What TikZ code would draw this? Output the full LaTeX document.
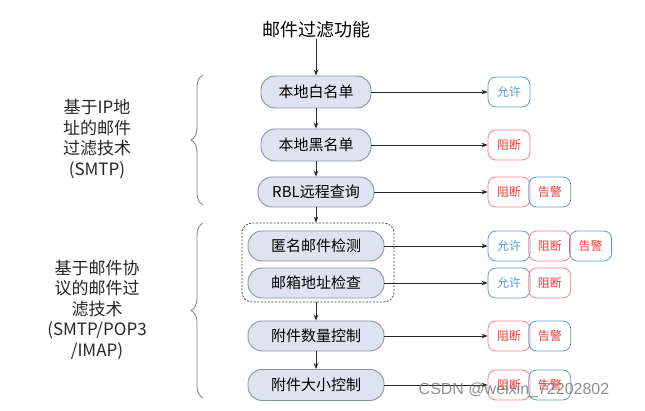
\documentclass[tikz,border=0pt]{standalone}
\usepackage{fontspec}
\setmainfont{Noto Sans CJK SC}
\newfontfamily\marquefont{Liberation Sans}
\usetikzlibrary{arrows.meta, positioning, decorations.pathreplacing}
\definecolor{etapefond}{HTML}{DEE4EF}
\definecolor{etapebord}{HTML}{8794A8}
\definecolor{okbleu}{HTML}{5B9BD5}
\definecolor{stoprouge}{HTML}{FF7C80}
\definecolor{texterouge}{HTML}{F23A3A}
\definecolor{fleche}{HTML}{262626}

\begin{document}
\begin{tikzpicture}[x=1pt, y=1pt, >={Stealth[length=6pt, width=4.5pt]},
  every node/.style={inner sep=0pt},
  etape/.style={draw=etapebord, fill=etapefond, line width=0.9pt, rounded corners=14pt,
    minimum height=30pt, font=\fontsize{15}{18}\selectfont},
  verdict/.style={draw, line width=0.8pt, rounded corners=8pt, minimum width=42pt,
    minimum height=30pt, font=\fontsize{12}{14}\selectfont},
  autorise/.style={verdict, draw=okbleu, text=okbleu},
  bloque/.style={verdict, draw=stoprouge, text=texterouge},
  alerte/.style={verdict, draw=okbleu, text=texterouge},
  lien/.style={->, fleche, line width=0.8pt},
  accolade/.style={decorate, decoration={brace, amplitude=12pt, aspect=0.5}, gray, line width=0.8pt},
  technique/.style={align=center, font=\fontsize{17}{20.5}\selectfont, text=black!85}]

  \useasboundingbox (0,0) rectangle (645,411);

  % === TITRE ===
  \node[font=\fontsize{18}{20}\selectfont] (titre) at (316,381) {邮件过滤功能};

  % === ETAPES (colonne centrale) ===
  \node[etape, minimum width=110pt, minimum height=32pt] (blanche) at (316,319) {本地白名单};
  \node[etape, minimum width=110pt, minimum height=32pt] (noire) at (316,266) {本地黑名单};
  \node[etape, minimum width=116pt] (rbl) at (316,219) {RBL远程查询};
  \node[etape, minimum width=136pt] (anonyme) at (316,165) {匿名邮件检测};
  \node[etape, minimum width=136pt] (adresse) at (316,128) {邮箱地址检查};
  \node[etape, minimum width=136pt] (nombre) at (316,75) {附件数量控制};
  \node[etape, minimum width=136pt, minimum height=31pt] (taille) at (316,26) {附件大小控制};

  % Cadre pointille autour des deux controles de protocole
  \node[draw=black!75, line width=0.7pt, dash pattern=on 2pt off 1.5pt, rounded corners=10pt,
    minimum width=152pt, minimum height=79pt] (protocole) at (318,148.5) {};

  % === FLECHES VERTICALES ===
  \draw[lien] (titre) -- (blanche);
  \draw[lien] (blanche) -- (noire);
  \draw[lien] (noire) -- (rbl);
  \draw[lien] (rbl.south) -- (protocole.north -| rbl.south);
  \draw[lien] (protocole.south -| nombre.north) -- (nombre);
  \draw[lien] (nombre) -- (taille);

  % === VERDICTS (colonne droite) ===
  \node[autorise] (ok1) at (509,319) {允许};

  \node[bloque] (stop2) at (509,266) {阻断};

  \node[bloque] (stop3) at (509,219) {阻断};
  \node[alerte, right=-2pt of stop3] (alerte3) {告警};

  \node[autorise] (ok4) at (509,165) {允许};
  \node[bloque, right=-2pt of ok4] (stop4) {阻断};
  \node[alerte, right=-2pt of stop4] (alerte4) {告警};

  \node[autorise] (ok5) at (509,128) {允许};
  \node[bloque, right=-2pt of ok5] (stop5) {阻断};

  \node[bloque] (stop6) at (509,75) {阻断};
  \node[alerte, right=-2pt of stop6] (alerte6) {告警};

  \node[bloque] (stop7) at (509,26) {阻断};
  \node[alerte, right=-2pt of stop7] (alerte7) {告警};

  % === FLECHES HORIZONTALES ===
  \draw[lien] (blanche) -- (ok1);
  \draw[lien] (noire) -- (stop2);
  \draw[lien] (rbl) -- (stop3);
  \draw[lien] (anonyme) -- (ok4);
  \draw[lien] (adresse) -- (ok5);
  \draw[lien] (nombre) -- (stop6);
  \draw[lien] (taille) -- (stop7);

  % === ACCOLADES ET TECHNIQUES (gauche) ===
  \draw[accolade] (203,206) -- (203,336);
  \draw[accolade] (203,13) -- (203,188);

  \node[technique] (ipfiltre) at (97,272) {基于IP地\\址的邮件\\过滤技术\\(SMTP)};
  \node[technique] (protofiltre) at (97,101) {基于邮件协\\议的邮件过\\滤技术\\(SMTP/POP3\\/IMAP)};

  % Filigrane
  \node[font=\marquefont\fontsize{16}{18}\selectfont, text=black!55, opacity=0.8] (filigrane)
    at (514,21) {CSDN @weixin\_72202802};

\end{tikzpicture}
\end{document}
